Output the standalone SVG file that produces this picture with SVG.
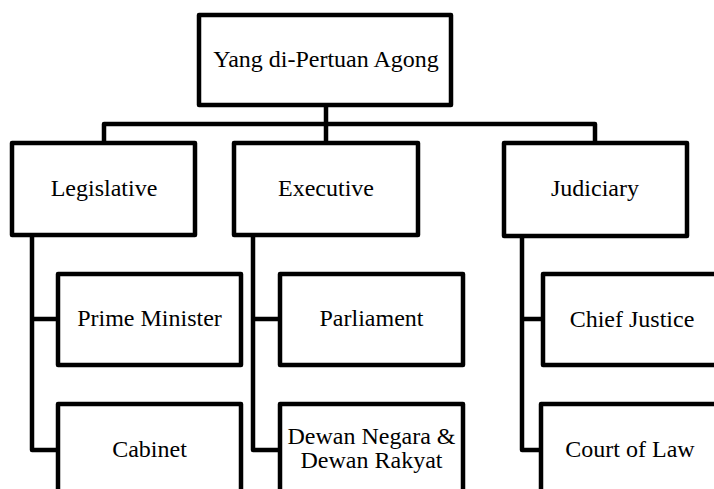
<svg xmlns="http://www.w3.org/2000/svg" width="714" height="489" viewBox="0 0 714 489">
<style>
.box{fill:#fff;stroke:#000;stroke-width:4.5;stroke-linejoin:round}
.conn{fill:none;stroke:#000;stroke-width:4.5;stroke-linejoin:round}
text{font-family:"Liberation Serif","Times New Roman",serif;font-size:24px;fill:#000;text-anchor:middle}
</style>
<rect width="714" height="489" fill="#fff"/>
<g id="connectors">
<path class="conn" d="M326,105 V143 M104,143 V124 H595 V143"/>
<path class="conn" d="M32,235 V450 H58 M32,319 H58"/>
<path class="conn" d="M253,235 V450 H280 M253,319 H280"/>
<path class="conn" d="M522,235 V450 H542 M522,319 H542"/>
</g>
<g id="agong"><rect class="box" x="199" y="15" width="252" height="90"/><text x="326" y="67">Yang di-Pertuan Agong</text></g>
<g id="legislative"><rect class="box" x="12" y="143" width="183" height="92"/><text x="104" y="196">Legislative</text></g>
<g id="executive"><rect class="box" x="234" y="143" width="184" height="92"/><text x="326" y="196">Executive</text></g>
<g id="judiciary"><rect class="box" x="504" y="143" width="183" height="93"/><text x="595" y="196">Judiciary</text></g>
<g id="prime-minister"><rect class="box" x="58" y="274" width="183" height="91"/><text x="149.5" y="326">Prime Minister</text></g>
<g id="cabinet"><rect class="box" x="58" y="404" width="183" height="91"/><text x="149.5" y="457">Cabinet</text></g>
<g id="parliament"><rect class="box" x="280" y="274" width="183" height="91"/><text x="371.5" y="326">Parliament</text></g>
<g id="dewan"><rect class="box" x="280" y="404" width="183" height="91"/><text x="371.5" y="444">Dewan Negara &amp;</text><text x="371.5" y="468">Dewan Rakyat</text></g>
<g id="chief-justice"><rect class="box" x="543" y="274" width="180" height="91"/><text x="632" y="327">Chief Justice</text></g>
<g id="court-of-law"><rect class="box" x="541" y="404" width="180" height="91"/><text x="630" y="457">Court of Law</text></g>
</svg>
